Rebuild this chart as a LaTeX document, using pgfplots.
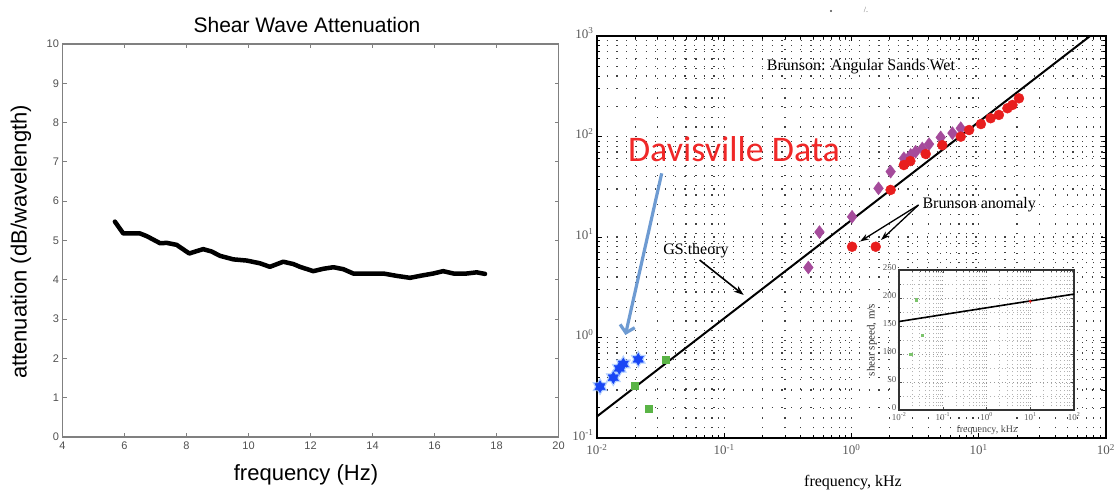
\documentclass[border=0pt]{standalone}
\usepackage{fontspec}
\setmainfont{Liberation Serif}
\newfontfamily\lsans{Liberation Sans}
\newfontfamily\lserif{Liberation Serif}
\newfontfamily\carlito{Carlito}
\usepackage{pgfplots}
\pgfplotsset{compat=1.18}
\usetikzlibrary{arrows.meta}
\newcommand\fs[1]{\fontsize{#1}{#1}\selectfont}
\definecolor{tickgray}{RGB}{80,80,80}
\definecolor{framegray}{RGB}{128,128,128}
\definecolor{starblue}{RGB}{25,70,245}
\definecolor{glowblue}{RGB}{150,190,255}
\definecolor{sqgreen}{RGB}{90,180,70}
\definecolor{dpurple}{RGB}{165,75,155}
\definecolor{cred}{RGB}{232,30,30}
\definecolor{arrowblue}{RGB}{110,155,210}
\definecolor{davred}{RGB}{240,40,40}
\pgfdeclareplotmark{hexagram}{%
  \pgfpathmoveto{\pgfqpointpolar{90}{\pgfplotmarksize}}%
  \pgfpathlineto{\pgfqpointpolar{210}{\pgfplotmarksize}}%
  \pgfpathlineto{\pgfqpointpolar{330}{\pgfplotmarksize}}%
  \pgfpathclose
  \pgfpathmoveto{\pgfqpointpolar{270}{\pgfplotmarksize}}%
  \pgfpathlineto{\pgfqpointpolar{30}{\pgfplotmarksize}}%
  \pgfpathlineto{\pgfqpointpolar{150}{\pgfplotmarksize}}%
  \pgfpathclose
  \pgfusepathqfillstroke}
\begin{document}
\begin{tikzpicture}
\useasboundingbox (0pt,0pt) rectangle (1114pt,491pt);
% ---------------- left panel ----------------
\begin{axis}[at={(62.5pt,54pt)}, anchor=south west, scale only axis,
  width=496pt, height=393pt,
  xmin=4, xmax=20, ymin=0, ymax=10,
  xtick={4,6,...,20}, ytick={0,1,...,10},
  tick align=inside, major tick length=4pt,
  axis line style={framegray, line width=1.4pt},
  tick style={framegray, line width=1pt},
  tick label style={font=\lsans\fs{11}, text=tickgray},
  /pgf/number format/assume math mode=true,
  xticklabel style={yshift=-1pt},
]
\addplot[black, line width=4.5pt, line join=round, line cap=round] coordinates {
(5.69,5.48)(5.96,5.18)(6.5,5.18)(6.72,5.11)(7.15,4.93)(7.36,4.94)(7.68,4.89)
(8.09,4.67)(8.33,4.73)(8.54,4.78)(8.81,4.72)(9.08,4.61)(9.51,4.52)(9.94,4.49)
(10.37,4.42)(10.69,4.33)(11.12,4.46)(11.45,4.40)(11.66,4.33)(12.09,4.22)(12.41,4.28)
(12.74,4.32)(13.06,4.27)(13.38,4.16)(13.81,4.16)(14.35,4.16)(14.78,4.10)(15.21,4.05)
(15.53,4.10)(15.96,4.16)(16.28,4.22)(16.61,4.16)(17.04,4.16)(17.36,4.19)(17.63,4.15)};
\end{axis}
\node[anchor=base, font=\lsans\fs{21}] at (307pt,458pt) {Shear Wave Attenuation};
\node[anchor=base, font=\lsans\fs{22}] at (306pt,11pt) {frequency (Hz)};
\node[rotate=90, font=\lsans\fs{22}] at (21pt,249pt) {attenuation (dB/wavelength)};
% ---------------- right panel ----------------
\begin{axis}[at={(597pt,53pt)}, anchor=south west, scale only axis,
  width=509pt, height=402pt,
  xmode=log, ymode=log, xmin=0.01, xmax=100, ymin=0.1, ymax=1000,
  xtick={0.01,0.1,1,10,100},
  xticklabels={10\textsuperscript{-2},10\textsuperscript{-1},10\textsuperscript{0},10\textsuperscript{1},10\textsuperscript{2}},
  ytick={0.1,1,10,100,1000},
  yticklabels={10\textsuperscript{-1},10\textsuperscript{0},10\textsuperscript{1},10\textsuperscript{2},10\textsuperscript{3}},
  minor xtick={0.02,0.03,0.04,0.05,0.06,0.07,0.08,0.09,0.2,0.3,0.4,0.5,0.6,0.7,0.8,0.9,2,3,4,5,6,7,8,9,20,30,40,50,60,70,80,90},
  minor ytick={0.2,0.3,0.4,0.5,0.6,0.7,0.8,0.9,2,3,4,5,6,7,8,9,20,30,40,50,60,70,80,90,200,300,400,500,600,700,800,900},
  grid=both,
  major grid style={black!75, line width=1.2pt, dash pattern=on 1.2pt off 8.5pt},
  minor grid style={black!75, line width=1.2pt, dash pattern=on 1.2pt off 8.5pt},
  tick align=inside, major tick length=5pt, minor tick length=3pt,
  axis line style={black, line width=1.5pt},
  tick style={black, line width=0.8pt},
  tick label style={font=\lserif\fs{13}, text=gray!70!black},
  xticklabel style={yshift=-3pt},
  yticklabel style={yshift=3pt},
]
\addplot[black, line width=2pt] coordinates {(0.01,0.164)(75,1000)};
\addplot[only marks, mark=square*, mark size=3.6pt, color=sqgreen] coordinates {
(0.0199,0.329)(0.0348,0.597)(0.0253,0.197)};
\addplot[only marks, mark=hexagram, mark size=8.5pt, color=glowblue, opacity=0.6] coordinates {
(0.01056,0.324)(0.01343,0.398)(0.01496,0.494)(0.0161,0.545)(0.0211,0.607)};
\addplot[only marks, mark=hexagram, mark size=6pt, color=starblue] coordinates {
(0.01056,0.324)(0.01343,0.398)(0.01496,0.494)(0.0161,0.545)(0.0211,0.607)};
\addplot[only marks, mark=diamond*, mark size=6.5pt, color=dpurple] coordinates {
(0.458,4.97)(0.56,11.2)(1.01,15.9)(1.63,30.5)(2.03,44.7)(2.58,60.7)(2.92,65.5)
(3.19,70.6)(3.6,76)(4.07,84)(5.02,98)(6.21,108)(7.22,121)};
\addplot[only marks, mark=*, mark size=5pt, color=cred] coordinates {
(1.01,8.0)(1.55,8.0)(2.03,29.4)(2.58,52)(2.9,57)(3.83,67)(5.17,82)(7.22,99.6)(8.4,116)
(10.4,133)(12.4,152)(14.4,164)(16.8,191)(18.4,206)(20.7,240)};
\end{axis}
% ---------------- inset ----------------
\begin{axis}[at={(899pt,81pt)}, anchor=south west, scale only axis,
  width=175pt, height=140pt,
  xmode=log, xmin=0.01, xmax=100, ymin=0, ymax=250,
  xtick={0.01,0.1,1,10,100},
  xticklabels={10\textsuperscript{-2},10\textsuperscript{-1},10\textsuperscript{0},10\textsuperscript{1},10\textsuperscript{2}},
  ytick={0,50,...,250},
  minor xtick={0.02,0.03,0.04,0.05,0.06,0.07,0.08,0.09,0.2,0.3,0.4,0.5,0.6,0.7,0.8,0.9,2,3,4,5,6,7,8,9,20,30,40,50,60,70,80,90},
  minor ytick={25,75,125,175,225},
  grid=both,
  major grid style={black!40, line width=0.8pt, dash pattern=on 0.8pt off 3pt},
  minor grid style={black!30, line width=0.8pt, dash pattern=on 0.8pt off 3pt},
  axis background/.style={fill=white},
  tick align=inside, major tick length=3pt, minor tick length=1.5pt,
  axis line style={black!80, line width=1.1pt},
  tick style={black!70, line width=0.5pt},
  tick label style={font=\lserif\fs{9}, text=gray!70!black},
  /pgf/number format/assume math mode=true,
  xticklabel style={yshift=1pt},
  yticklabel style={xshift=1pt, yshift=2.5pt},
]
\addplot[black, line width=1.6pt] coordinates {(0.01,158)(100,207)};
\addplot[only marks, mark=*, mark size=1.3pt, color=cred] coordinates {(10,194)};
\addplot[only marks, mark=square*, mark size=1.1pt, color=sqgreen!80] coordinates {
(0.0186,99)(0.0344,134)(0.025,197)};
\end{axis}
\node[anchor=base, font=\lserif\fs{10}, text=gray!60!black] at (987pt,59pt) {frequency, kHz};
\node[rotate=90, font=\lserif\fs{11}, text=black!80] at (872pt,151pt) {shear speed, m/s};
% ---------------- annotations ----------------
\node[anchor=base, font=\lserif\fs{16}] at (861pt,420pt) {Brunson: Angular Sands Wet};
\node[anchor=base west, font=\lserif\fs{16}] at (919pt,283pt) {Brunson anomaly};
\node[anchor=base, font=\lserif\fs{16}] at (696pt,237pt) {GS theory};
\node[anchor=base, font=\carlito\fs{36}, text=davred] at (734pt,329pt) {Davisville Data};
\node[anchor=base, font=\lserif\fs{16}] at (853pt,5pt) {frequency, kHz};
\draw[arrowblue, line width=3.2pt, -{Straight Barb[length=7pt,width=15pt]}] (661.7pt,317.7pt) -- (625.4pt,156pt);
\draw[black, line width=1.6pt, -{Stealth[length=10pt,width=7pt]}] (699.6pt,231pt) -- (743.7pt,196pt);
\draw[black, line width=1.3pt, -{Stealth[length=9pt,width=6pt]}] (918.5pt,286pt) -- (860pt,249.5pt);
\draw[black, line width=1.3pt, -{Stealth[length=9pt,width=6pt]}] (918.5pt,286pt) -- (881pt,251pt);
\fill[black!70] (831pt,480pt) circle (1.2pt);
\node[font=\lserif\fs{8}, text=black!60] at (866pt,481pt) {/.};
\end{tikzpicture}
\end{document}
